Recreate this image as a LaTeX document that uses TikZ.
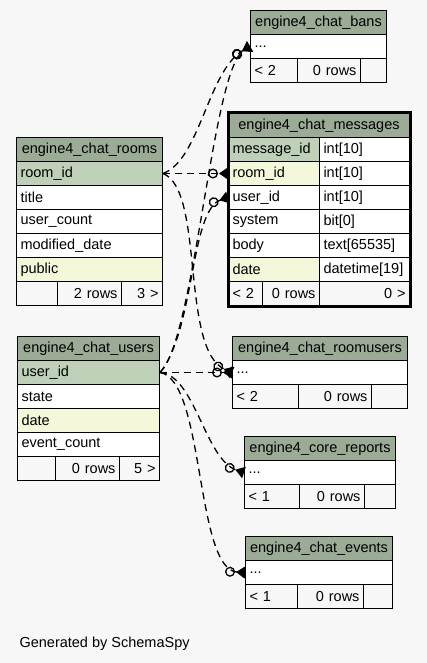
\documentclass[tikz,border=0pt]{standalone}
\usepackage{fontspec}
\setmainfont{Liberation Sans}
\usetikzlibrary{arrows.meta}
\definecolor{bgcol}{HTML}{F7F7F7}
\definecolor{headcol}{HTML}{9BAB96}
\definecolor{keycol}{HTML}{BED1B8}
\definecolor{idxcol}{HTML}{F4F7DA}
\def\cell[#1](#2)(#3,#4)(#5)#6{\node[cell,text width=#5pt-8pt,#1] (#2) at (#3,#4) {#6};}

\begin{document}
\begin{tikzpicture}[x=1pt,y=-1pt,
	cell/.style={draw,line width=1pt,fill=white,anchor=north west,minimum height=24pt,inner xsep=4pt,inner ysep=0pt,align=left,font=\fontsize{14.5}{17}\selectfont},
	head/.style={fill=headcol,align=center},
	pk/.style={fill=keycol},
	idx/.style={fill=idxcol},
	foot/.style={fill=bgcol},
	rgt/.style={align=right},
	rel/.style={line width=1.3pt,dash pattern=on 7pt off 5pt,-{Circle[open,length=10pt,line width=1.3pt,sep=1pt]Triangle[reversed,length=9pt,width=12pt]}}]
	\fill[bgcol] (0,0) rectangle (427,663);
	\useasboundingbox (0,0) rectangle (427,663);

	%CHAT BANS
	\cell[head](bans-h)(250,10)(136){engine4\_chat\_bans}
	\cell[](bans-r)(250,34)(136){...}
	\cell[foot](bans-f1)(250,58)(47){< 2}
	\cell[foot,rgt](bans-f2)(297,58)(63){0 rows}
	\cell[foot](bans-f3)(360,58)(26){}

	%CHAT ROOMS
	\cell[head](rooms-h)(16,137)(146){engine4\_chat\_rooms}
	\cell[pk](rooms-id)(16,161)(146){room\_id}
	\cell[](rooms-title)(16,185)(146){title}
	\cell[](rooms-ucount)(16,209)(146){user\_count}
	\cell[](rooms-mdate)(16,233)(146){modified\_date}
	\cell[idx](rooms-public)(16,257)(146){public}
	\cell[foot](rooms-f1)(16,281)(41){}
	\cell[foot,rgt](rooms-f2)(57,281)(64){2 rows}
	\cell[foot,rgt](rooms-f3)(121,281)(41){3 >}

	%CHAT MESSAGES
	\cell[head](msg-h)(228,113)(181){engine4\_chat\_messages}
	\cell[pk](msg-id)(228,137)(91){message\_id}
	\cell[](msg-idt)(319,137)(90){int[10]}
	\cell[idx](msg-roomid)(228,161)(91){room\_id}
	\cell[](msg-roomidt)(319,161)(90){int[10]}
	\cell[](msg-userid)(228,185)(91){user\_id}
	\cell[](msg-useridt)(319,185)(90){int[10]}
	\cell[](msg-system)(228,209)(91){system}
	\cell[](msg-systemt)(319,209)(90){bit[0]}
	\cell[](msg-body)(228,233)(91){body}
	\cell[](msg-bodyt)(319,233)(90){text[65535]}
	\cell[idx](msg-date)(228,257)(91){date}
	\cell[](msg-datet)(319,257)(90){datetime[19]}
	\cell[foot](msg-f1)(228,281)(34){< 2}
	\cell[foot,rgt](msg-f2)(262,281)(57){0 rows}
	\cell[foot,rgt](msg-f3)(319,281)(90){0 >}
	\draw[line width=3pt] (msg-h.north west) rectangle (msg-f3.south east);

	%CHAT USERS
	\cell[head](users-h)(17,336)(142){engine4\_chat\_users}
	\cell[pk](users-id)(17,360)(142){user\_id}
	\cell[](users-state)(17,384)(142){state}
	\cell[idx](users-date)(17,408)(142){date}
	\cell[](users-ecount)(17,432)(142){event\_count}
	\cell[foot](users-f1)(17,456)(38){}
	\cell[foot,rgt](users-f2)(55,456)(64){0 rows}
	\cell[foot,rgt](users-f3)(119,456)(40){5 >}

	%ROOMUSERS
	\cell[head](ru-h)(232,336)(175){engine4\_chat\_roomusers}
	\cell[](ru-r)(232,360)(175){...}
	\cell[foot](ru-f1)(232,384)(66){< 2}
	\cell[foot,rgt](ru-f2)(298,384)(73){0 rows}
	\cell[foot](ru-f3)(371,384)(36){}

	%CORE REPORTS
	\cell[head](rep-h)(244,436)(151){engine4\_core\_reports}
	\cell[](rep-r)(244,460)(151){...}
	\cell[foot](rep-f1)(244,484)(55){< 1}
	\cell[foot,rgt](rep-f2)(299,484)(65){0 rows}
	\cell[foot](rep-f3)(364,484)(31){}

	%CHAT EVENTS
	\cell[head](ev-h)(245,536)(147){engine4\_chat\_events}
	\cell[](ev-r)(245,560)(147){...}
	\cell[foot](ev-f1)(245,584)(52){< 1}
	\cell[foot,rgt](ev-f2)(297,584)(66){0 rows}
	\cell[foot](ev-f3)(363,584)(29){}

	\node[anchor=base west,font=\fontsize{14.5}{17}\selectfont] (gen) at (16,647) {Generated by SchemaSpy};

	%RELATIONS
	\draw[rel] (rooms-id.east) -- (msg-roomid.west);
	\draw[rel] (rooms-id.east) .. controls (200,160) and (208,70) .. (bans-r.west);
	\draw[rel] (rooms-id.east) .. controls (205,190) and (180,350) .. (ru-r.west);
	\draw[rel] (users-id.east) .. controls (195,340) and (212,70) .. (bans-r.west);
	\draw[rel] (users-id.east) .. controls (195,330) and (190,210) .. (msg-userid.west);
	\draw[rel] (users-id.east) -- (ru-r.west);
	\draw[rel] (users-id.east) .. controls (195,375) and (205,460) .. (rep-r.west);
	\draw[rel] (users-id.east) .. controls (205,380) and (195,570) .. (ev-r.west);
\end{tikzpicture}
\end{document}
